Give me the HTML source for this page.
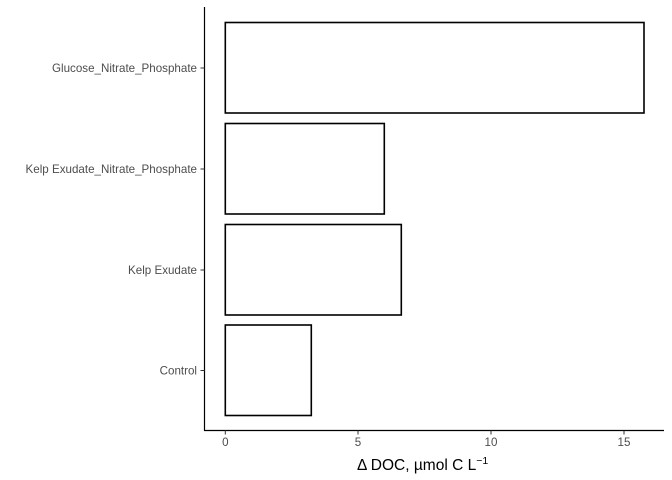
<!DOCTYPE html>
<html><head><meta charset="utf-8"><style>body{margin:0;background:#fff}svg{display:block}</style></head><body>
<svg width="672" height="480" xmlns="http://www.w3.org/2000/svg" font-family="Liberation Sans, sans-serif">
<g fill="#fff" stroke="#000" stroke-width="1.6">
<rect x="225.3" y="22.5" width="418.7" height="90.5"/>
<rect x="225.3" y="123.5" width="159" height="90.5"/>
<rect x="225.3" y="224.5" width="176" height="90.5"/>
<rect x="225.3" y="325" width="86" height="90.5"/>
</g>
<g stroke="#000" stroke-width="1.2">
<line x1="204.5" y1="7" x2="204.5" y2="430.5"/>
<line x1="204" y1="430.5" x2="664" y2="430.5"/>
</g>
<g stroke="#333" stroke-width="1">
<line x1="200.5" y1="68" x2="204.5" y2="68"/>
<line x1="200.5" y1="169" x2="204.5" y2="169"/>
<line x1="200.5" y1="270" x2="204.5" y2="270"/>
<line x1="200.5" y1="370.5" x2="204.5" y2="370.5"/>
<line x1="225.3" y1="430.5" x2="225.3" y2="434.5"/>
<line x1="358" y1="430.5" x2="358" y2="434.5"/>
<line x1="491" y1="430.5" x2="491" y2="434.5"/>
<line x1="624" y1="430.5" x2="624" y2="434.5"/>
</g>
<g fill="#4d4d4d" font-size="11.6" text-anchor="end">
<text x="197" y="72">Glucose_Nitrate_Phosphate</text>
<text x="197" y="173">Kelp Exudate_Nitrate_Phosphate</text>
<text x="197" y="274">Kelp Exudate</text>
<text x="197" y="374.5">Control</text>
</g>
<g fill="#4d4d4d" font-size="11.6" text-anchor="middle">
<text x="225.3" y="446">0</text>
<text x="358" y="446">5</text>
<text x="491" y="446">10</text>
<text x="624" y="446">15</text>
</g>
<text x="357" y="470" font-size="15.5" fill="#000">Δ DOC, µmol C L<tspan font-size="10.5" dy="-6">−1</tspan></text>
</svg>
</body></html>
